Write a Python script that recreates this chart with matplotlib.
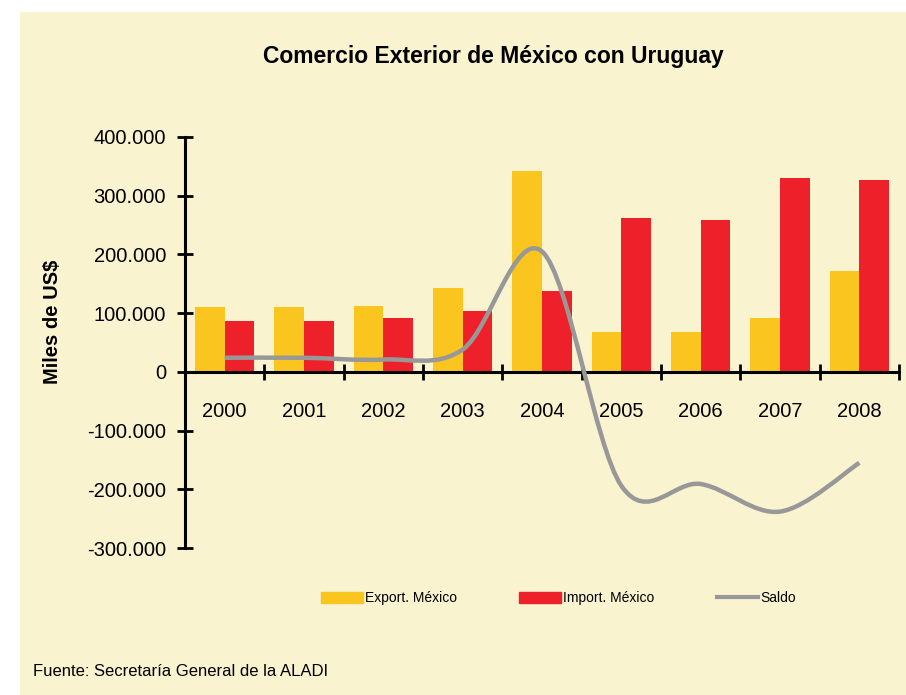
import numpy as np
import matplotlib
matplotlib.use("Agg")
import matplotlib.pyplot as plt
from matplotlib.path import Path
from matplotlib.patches import PathPatch, Rectangle, Patch
from matplotlib.lines import Line2D
from matplotlib.ticker import FuncFormatter, FixedLocator

plt.rcParams['font.family'] = ['Liberation Sans', 'DejaVu Sans']

# data (miles de US$)
years = ['2000', '2001', '2002', '2003', '2004', '2005', '2006', '2007', '2008']
export_mx = [110000, 110000, 113000, 142000, 342000, 68000, 68000, 92000, 172000]
import_mx = [86000, 86000, 92000, 104000, 137000, 262000, 259000, 330000, 327000]
saldo = [24000, 24000, 21000, 38000, 205000, -194000, -191000, -238000, -155000]

yellow = '#F9C51E'
red = '#EE2029'
grey = '#989898'
cream = '#F9F3D0'

fig = plt.figure(figsize=(9.06, 6.95), dpi=100, facecolor='white')
# cream background panel
fig.patches.append(Rectangle((20/906, 0), 1 - 20/906, 1 - 12/695, transform=fig.transFigure,
                             facecolor=cream, edgecolor='none', zorder=-10))

ax = fig.add_axes([185/906, 1 - 548/695, 714/906, 411/695])
ax.set_facecolor('none')

x = np.arange(len(years))
w = 0.372
ax.bar(x - w/2, export_mx, w, color=yellow, zorder=2)
ax.bar(x + w/2, import_mx, w, color=red, zorder=2)

# smoothed line like excel (catmull-rom bezier)
pts = np.column_stack([x, saldo]).astype(float)
n = len(pts)
verts = [tuple(pts[0])]
codes = [Path.MOVETO]
for i in range(n - 1):
    p0 = pts[i - 1] if i > 0 else pts[i]
    p3 = pts[i + 2] if i + 2 < n else pts[i + 1]
    c1 = pts[i] + (pts[i + 1] - p0) / 6
    c2 = pts[i + 1] - (p3 - pts[i]) / 6
    verts += [tuple(c1), tuple(c2), tuple(pts[i + 1])]
    codes += [Path.CURVE4] * 3
ax.add_patch(PathPatch(Path(verts, codes), facecolor='none', edgecolor=grey,
                       lw=3.2, capstyle='butt', zorder=4))

ax.set_xlim(-0.5, len(years) - 0.5)
ax.set_ylim(-300000, 400000)

for s in ['top', 'right']:
    ax.spines[s].set_visible(False)
ax.spines['bottom'].set_position(('data', 0))
ax.spines['bottom'].set_linewidth(2.2)
ax.spines['left'].set_linewidth(2.2)
ax.spines['bottom'].set_zorder(3)

ax.set_yticks(np.arange(-300000, 400001, 100000))
ax.yaxis.set_major_formatter(FuncFormatter(lambda v, p: f"{v:,.0f}".replace(',', '.')))
ax.tick_params(axis='y', direction='inout', length=11.5, width=2, pad=8, labelsize=14.5)

ax.set_xticks(x)
ax.set_xticklabels(years)
ax.xaxis.set_minor_locator(FixedLocator(np.arange(-0.5, len(years), 1.0)))
ax.tick_params(axis='x', which='major', length=0, pad=22, labelsize=14.5)
ax.tick_params(axis='x', which='minor', direction='inout', length=11.5, width=2)

fig.text(493/906, 1 - 56/695, 'Comercio Exterior de México con Uruguay',
         ha='center', va='center', fontsize=16.5, fontweight='bold')
fig.text(53/906, 1 - 322/695, r'Miles de US\$', rotation=90,
         ha='center', va='center', fontsize=14.5, fontweight='bold')
fig.text(33/906, 1 - 672/695, 'Fuente: Secretaría General de la ALADI',
         ha='left', va='center', fontsize=12)

handles = [Patch(color=yellow), Patch(color=red), Line2D([], [], color=grey, lw=3)]
fig.legend(handles, ['Export. México', 'Import. México', 'Saldo'], ncol=3,
           loc='center left', bbox_to_anchor=(314/906, 1 - 598/695), frameon=False,
           fontsize=10, borderpad=0, handlelength=3.0, handleheight=0.85,
           handletextpad=0.15, columnspacing=4.5)

fig.savefig('out.png', dpi=100, facecolor='white')
